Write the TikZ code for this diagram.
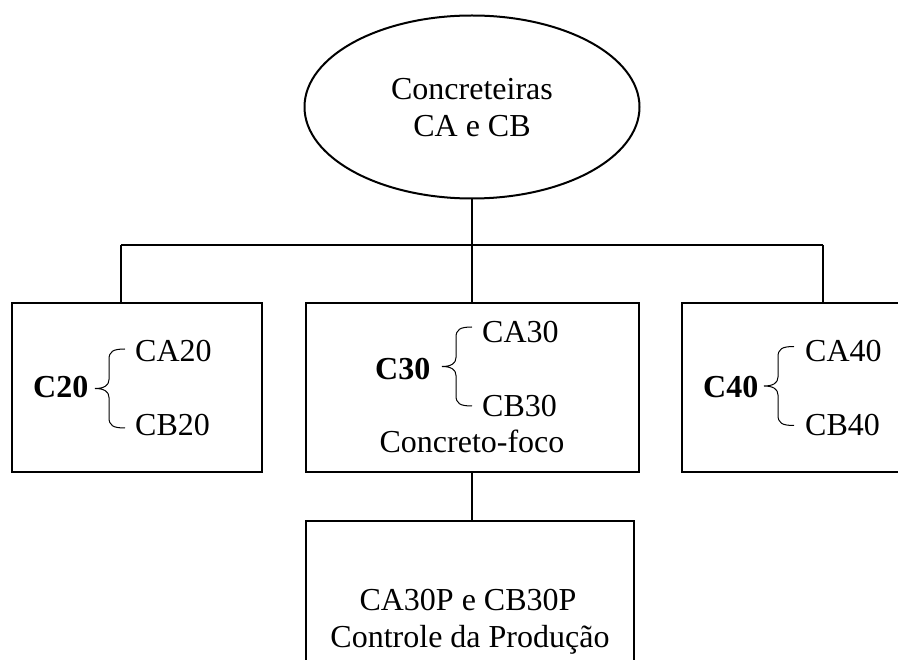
\documentclass[tikz,border=0pt]{standalone}
\usepackage{fontspec}
\setmainfont{Liberation Serif}
\usetikzlibrary{shapes.geometric}
\begin{document}
\begin{tikzpicture}[x=1pt,y=-1pt,
  box/.style={draw,line width=2pt,rectangle,inner sep=0pt},
  link/.style={line width=1.3pt},
  txt/.style={anchor=base,inner sep=0pt,font=\fontsize{32}{38}\selectfont},
  lbl/.style={txt,anchor=base west},
  bld/.style={lbl,font=\fontsize{32}{38}\selectfont\bfseries},
  brc/.style={line width=1pt},
  curly/.pic={\draw[brc] (30,-39.5) .. controls (18,-39.5) and (14,-37) .. (14,-29) -- (14,-9) .. controls (14,-3) and (9,0) .. (0,0) .. controls (9,0) and (14,3) .. (14,9) -- (14,29) .. controls (14,37) and (18,39.5) .. (30,39.5);}]
\useasboundingbox (0,0) rectangle (898,660);
\clip (0,0) rectangle (898,660);
% top ellipse
\node[draw,ellipse,line width=2pt,minimum width=335pt,minimum height=183pt,inner sep=0pt] (top) at (472,107) {};
\node[txt] (topA) at (472,100) {Concreteiras};
\node[txt] (topB) at (472,137) {CA e CB};
% boxes
\node[box,minimum width=250pt,minimum height=169pt] (b20) at (137,387.5) {};
\node[box,minimum width=333pt,minimum height=169pt] (b30) at (472.5,387.5) {};
\node[box,minimum width=250pt,minimum height=169pt] (b40) at (807,387.5) {};
\node[box,minimum width=328pt,minimum height=179pt] (bot) at (470,610.5) {};
% connectors
\coordinate (hub) at (472,245);
\coordinate (hl) at (121,245);
\coordinate (hr) at (823,245);
\draw[link] (top.south) -- (hub);
\draw[link] (hl) -- (hr);
\draw[link] (hl) -- (hl |- b20.north);
\draw[link] (hr) -- (hr |- b40.north);
\draw[link] (hub) -- (hub |- b30.north);
\draw[link] (hub |- b30.south) -- (hub |- bot.north);
% C20
\node[bld] (c20) at (33,398) {C20};
\pic at (95,388.5) {curly};
\node[lbl] (ca20) at (135,362) {CA20};
\node[lbl] (cb20) at (135,436) {CB20};
% C30
\node[bld] (c30) at (375,380) {C30};
\pic at (442,366.5) {curly};
\node[lbl] (ca30) at (482,343) {CA30};
\node[lbl] (cb30) at (482,417) {CB30};
\node[txt] (foco) at (472,453) {Concreto-foco};
% C40
\node[bld] (c40) at (703,398) {C40};
\pic at (764,386) {curly};
\node[lbl] (ca40) at (805,362) {CA40};
\node[lbl] (cb40) at (805,436) {CB40};
% bottom
\node[txt] (botA) at (468,610) {CA30P e CB30P};
\node[txt] (botB) at (470,647) {Controle da Produção};
\end{tikzpicture}
\end{document}
